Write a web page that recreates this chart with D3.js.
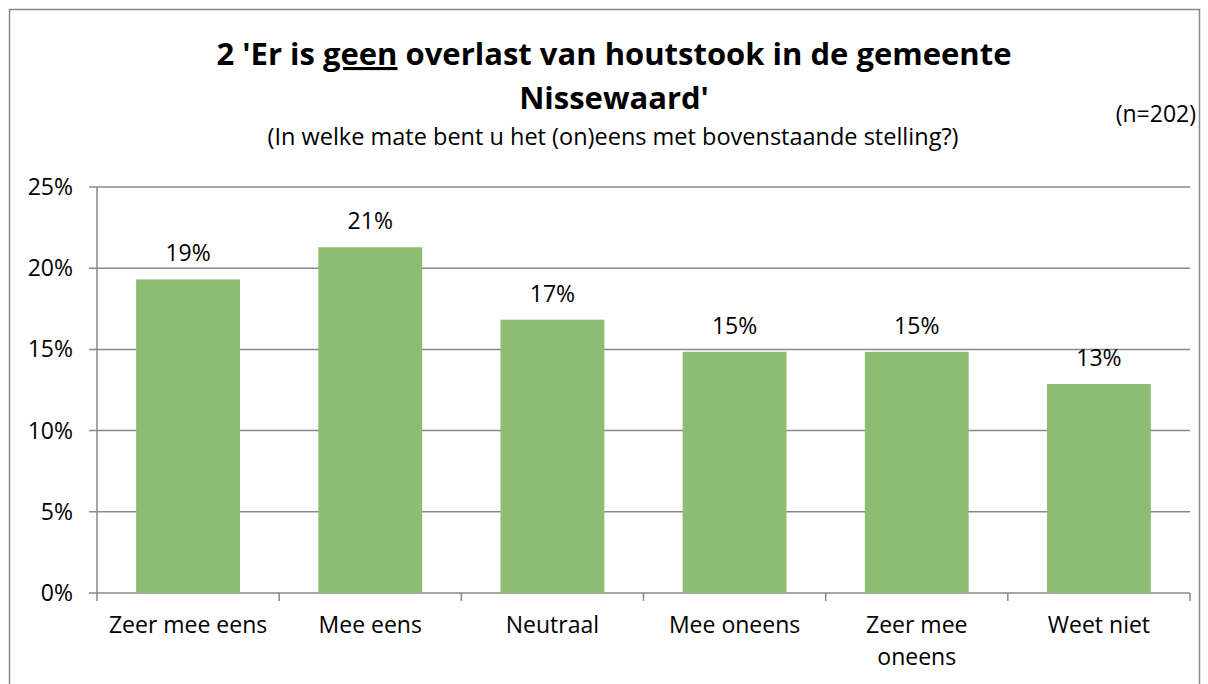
<!DOCTYPE html>
<html><head><meta charset="utf-8">
<script src="https://cdn.jsdelivr.net/npm/d3@7"></script>
<style>body{margin:0;background:#fff;} text{font-family:"Open Sans",Lato,sans-serif;fill:#000;}</style>
</head><body>
<svg id="c" width="1208" height="684"></svg>
<script>
const categories = ["Zeer mee eens","Mee eens","Neutraal","Mee oneens","Zeer mee oneens","Weet niet"];
const categoryLines = [["Zeer mee eens"],["Mee eens"],["Neutraal"],["Mee oneens"],["Zeer mee","oneens"],["Weet niet"]];
const values = [19.31, 21.29, 16.83, 14.85, 14.85, 12.87];
const yTicks = [0,5,10,15,20,25];
const titleLine1 = ["2 'Er is ", "geen", " overlast van houtstook in de gemeente"];
const titleLine2 = "Nissewaard'";
const subtitle = "(In welke mate bent u het (on)eens met bovenstaande stelling?)";
const nLabel = "(n=202)";

(function(){
const svg = d3.select("#c");
const FS = 23, TS = 31;
svg.append("rect").attr("x",9.5).attr("y",9.5).attr("width",1190).attr("height",690)
  .attr("fill","#fff").attr("stroke","#898989").attr("stroke-width",1.5);

const pl=97, pr=1190, pt=187, pb=593;
const x = d3.scaleBand().domain(categories).range([pl,pr]).paddingInner(0.43).paddingOuter(0.215);
const xb = d3.scaleBand().domain(categories).range([pl,pr]);
const y = d3.scaleLinear().domain([0,25]).range([pb,pt]);

svg.append("g").selectAll("line").data(yTicks).join("line")
  .attr("x1",pl-8).attr("x2",pr).attr("y1",d=>y(d)).attr("y2",d=>y(d))
  .attr("stroke","#888").attr("stroke-width",1.5);

svg.append("line").attr("x1",pl).attr("x2",pl).attr("y1",pt).attr("y2",pb)
  .attr("stroke","#888").attr("stroke-width",1.5);
const xt = categories.map(c=>xb(c)).concat([pr]);
svg.selectAll(".xt").data(xt).join("line").attr("class","xt")
  .attr("x1",d=>d).attr("x2",d=>d).attr("y1",pb).attr("y2",pb+8)
  .attr("stroke","#888").attr("stroke-width",1.5);

svg.selectAll(".bar").data(values).join("rect").attr("class","bar")
  .attr("x",(d,i)=>x(categories[i])).attr("width",x.bandwidth())
  .attr("y",d=>y(d)).attr("height",d=>pb-y(d)).attr("fill","#8DBD72");

svg.selectAll(".dl").data(values).join("text").attr("class","dl")
  .attr("x",(d,i)=>x(categories[i])+x.bandwidth()/2).attr("y",d=>y(d)-18)
  .attr("text-anchor","middle").attr("font-size",FS).text(d=>Math.round(d)+"%");

svg.selectAll(".yl").data(yTicks).join("text").attr("class","yl")
  .attr("x",pl-24).attr("y",d=>y(d)+8).attr("text-anchor","end").attr("font-size",FS)
  .text(d=>d+"%");

categoryLines.forEach((lines,i)=>{
  const cx = xb(categories[i])+xb.bandwidth()/2;
  const t = svg.append("text").attr("text-anchor","middle").attr("font-size",FS)
    .attr("x",cx).attr("y",633);
  lines.forEach((l,j)=>t.append("tspan").attr("x",cx).attr("dy",j?32:0).text(l));
});

const t1 = svg.append("text").attr("x",614).attr("y",65).attr("text-anchor","middle")
  .attr("font-size",TS).attr("font-weight","bold");
titleLine1.forEach((s,i)=>t1.append("tspan").attr("text-decoration",i===1?"underline":null).text(s));
svg.append("text").attr("x",614).attr("y",109).attr("text-anchor","middle")
  .attr("font-size",TS).attr("font-weight","bold").text(titleLine2);
svg.append("text").attr("x",613).attr("y",145).attr("text-anchor","middle")
  .attr("font-size",23.5).text(subtitle);
svg.append("text").attr("x",1196).attr("y",122).attr("text-anchor","end")
  .attr("font-size",FS).text(nLabel);
})();
</script>
</body></html>
